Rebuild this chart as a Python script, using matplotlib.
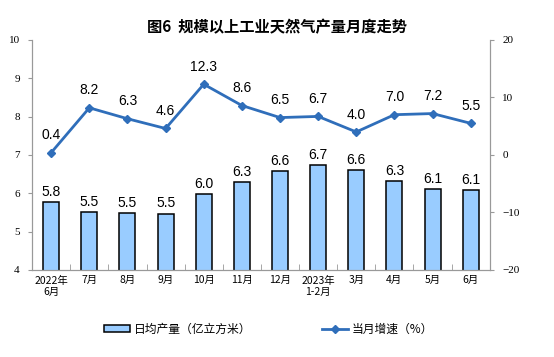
import numpy as np
import matplotlib
matplotlib.use("Agg")
import matplotlib.pyplot as plt
from matplotlib.ticker import FixedLocator

plt.rcParams['font.family'] = ['Noto Sans CJK SC', 'DejaVu Sans']

months = ["2022年\n6月", "7月", "8月", "9月", "10月", "11月", "12月", "2023年\n1-2月",
          "3月", "4月", "5月", "6月"]
output = [5.77, 5.52, 5.49, 5.47, 5.97, 6.3, 6.58, 6.74, 6.6, 6.31, 6.12, 6.09]
output_labels = ["5.8", "5.5", "5.5", "5.5", "6.0", "6.3", "6.6", "6.7", "6.6", "6.3", "6.1", "6.1"]
growth = [0.4, 8.2, 6.3, 4.6, 12.3, 8.6, 6.5, 6.7, 4.0, 7.0, 7.2, 5.5]

fig = plt.figure(figsize=(5.54, 3.57), dpi=100)
ax = fig.add_axes([0.058, 0.244, 0.826, 0.644])
ax2 = ax.twinx()

x = np.arange(len(months))
bars = ax.bar(x, output, width=0.42, color="#99CCFF", edgecolor="black", linewidth=1.1,
              label="日均产量（亿立方米）", zorder=2)
for xi, v, lab in zip(x, output, output_labels):
    ax.text(xi, v + 0.08, lab, ha="center", va="bottom", fontsize=10,
            family="Liberation Sans")

line, = ax2.plot(x, growth, color="#2F6EBA", linewidth=2, marker="D", markersize=4,
                 label="当月增速（%）", zorder=3)
for xi, v in zip(x, growth):
    ax2.text(xi, v + 1.8, f"{v:.1f}", ha="center", va="bottom", fontsize=10,
             family="Liberation Sans")

ax.set_xlim(-0.5, len(months) - 0.5)
ax.set_ylim(4, 10)
ax2.set_ylim(-20, 20)
ax.set_yticks(range(4, 11))
ax2.set_yticks(range(-20, 21, 10))

ax.set_xticks(x)
ax.set_xticklabels(months, fontsize=7.5)
ax.tick_params(axis="x", length=0, pad=4)
ax.xaxis.set_minor_locator(FixedLocator(np.arange(-0.5, len(months), 1)))
ax.tick_params(axis="x", which="minor", length=4, color="#999999", direction="in")

for a in (ax, ax2):
    a.tick_params(axis="y", labelsize=8, color="#999999", length=3, pad=6)
    for lbl in a.get_yticklabels():
        lbl.set_family("Liberation Serif")
    for s in a.spines.values():
        s.set_color("#999999")
    a.spines["top"].set_visible(False)

fig.text(0.5, 0.924, "图6  规模以上工业天然气产量月度走势", ha="center", va="center",
         fontsize=11, fontweight="bold")

fig.legend(handles=[bars, line], loc="lower center", bbox_to_anchor=(0.485, 0.03),
           ncol=2, frameon=False, fontsize=8.5, columnspacing=6, handlelength=2.2,
           handleheight=0.5, handletextpad=0.3)

fig.savefig("out.png", dpi=100)
